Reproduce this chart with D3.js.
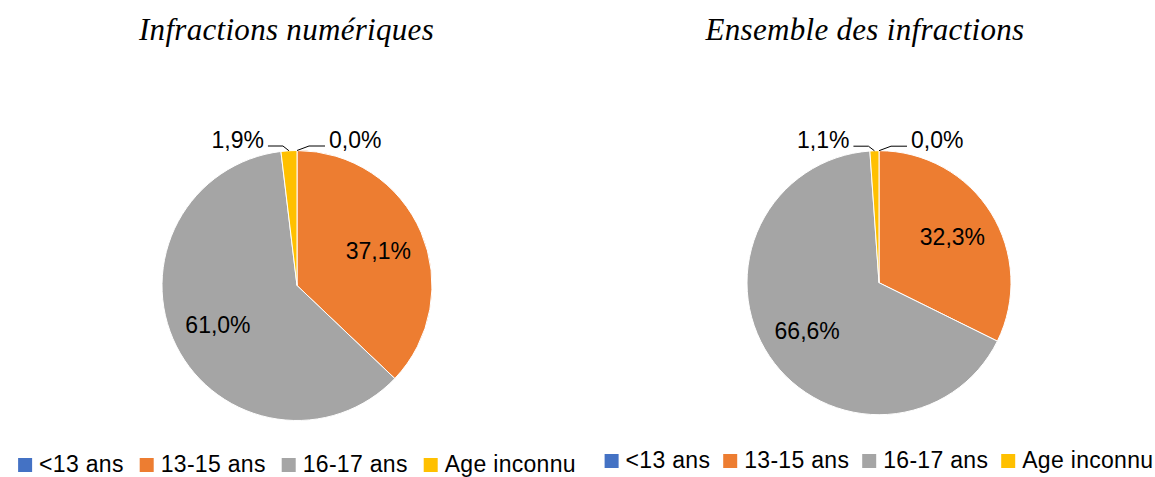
<!DOCTYPE html>
<html>
<head>
<meta charset="utf-8">
<script src="https://cdn.jsdelivr.net/npm/d3@7"></script>
<style>
  body { margin: 0; background: #fff; }
  svg { display: block; }
</style>
</head>
<body>
<script>
// data
var ageCategories = ["<13 ans", "13-15 ans", "16-17 ans", "Age inconnu"];
var ageColors = ["#4472C4", "#ED7D31", "#A5A5A5", "#FFC000"];
var numeriques = [0.0, 37.1, 61.0, 1.9];
var ensemble = [0.0, 32.3, 66.6, 1.1];
var chartTitles = ["Infractions numériques", "Ensemble des infractions"];

var svg_width = 1155, svg_height = 477;

var svg = d3.select("body").append("svg")
  .attr("width", svg_width)
  .attr("height", svg_height);

// layout for each pie
var charts = [
  {title: chartTitles[0], values: numeriques, cx: 297, cy: 285.5, r: 135, titleX: 286.5, legendY: 472, gap: 16},
  {title: chartTitles[1], values: ensemble, cx: 879, cy: 282.7, r: 132, titleX: 865, legendY: 468, gap: 13}
];

var color = d3.scaleOrdinal().domain(ageCategories).range(ageColors);
var pie = d3.pie().sort(null).value(function(d){ return d.v; });
var fmt = function(v){ return d3.format(".1f")(v).replace(".", ",") + "%"; };

charts.forEach(function(c){
  var data = c.values.map(function(v, i){ return {cat: ageCategories[i], v: v}; });
  var arcs = pie(data);

  // title
  svg.append("text")
    .attr("x", c.titleX)
    .attr("y", 40)
    .attr("text-anchor", "middle")
    .attr("font-family", "'Liberation Serif', 'Times New Roman', serif")
    .attr("font-style", "italic")
    .attr("font-size", 31)
    .attr("letter-spacing", 0.3)
    .attr("fill", "#000")
    .text(c.title);

  var g = svg.append("g").attr("transform", "translate(" + c.cx + "," + c.cy + ")");

  var arc = d3.arc().innerRadius(0).outerRadius(c.r);
  var labelArc = d3.arc().innerRadius(c.r * 0.655).outerRadius(c.r * 0.655);

  g.selectAll("path").data(arcs).enter().append("path")
    .attr("d", arc)
    .attr("fill", function(d){ return color(d.data.cat); })
    .attr("stroke", "#fff")
    .attr("stroke-width", 1);

  // inside labels
  g.selectAll("text.inside")
    .data(arcs.filter(function(d){ return d.data.v >= 5; }))
    .enter().append("text")
    .attr("class", "inside")
    .attr("transform", function(d){ return "translate(" + labelArc.centroid(d) + ")"; })
    .attr("text-anchor", "middle")
    .attr("dy", "0.35em")
    .attr("font-family", "'Liberation Sans', Arial, sans-serif")
    .attr("font-size", 23)
    .attr("fill", "#000")
    .text(function(d){ return fmt(d.data.v); });

  // outside labels with leader lines
  arcs.filter(function(d){ return d.data.v < 5; }).forEach(function(d){
    var mid = (d.startAngle + d.endAngle) / 2;
    var left = mid > Math.PI;
    var px = c.r * Math.sin(mid), py = -c.r * Math.cos(mid);
    var ey = -c.r - 4.5;
    var ex = px + (left ? -6 : 12);
    var hx = ex + (left ? -15 : 16);
    g.append("polyline")
      .attr("points", [[px, py], [ex, ey], [hx, ey]].map(function(p){ return p.join(","); }).join(" "))
      .attr("fill", "none")
      .attr("stroke", "#000")
      .attr("stroke-width", 1);
    g.append("text")
      .attr("x", hx + (left ? -4 : 4))
      .attr("y", ey + 2)
      .attr("text-anchor", left ? "end" : "start")
      .attr("font-family", "'Liberation Sans', Arial, sans-serif")
      .attr("font-size", 23)
      .attr("fill", "#000")
      .text(fmt(d.data.v));
  });

  // legend
  var lg = svg.append("g");
  var xpos = 0;
  ageCategories.forEach(function(cat){
    var item = lg.append("g").attr("transform", "translate(" + xpos + ",0)");
    item.append("rect")
      .attr("x", 0).attr("y", c.legendY - 14)
      .attr("width", 14).attr("height", 14)
      .attr("fill", color(cat));
    var t = item.append("text")
      .attr("x", 21).attr("y", c.legendY)
      .attr("font-family", "'Liberation Sans', Arial, sans-serif")
      .attr("font-size", 23)
      .attr("letter-spacing", 0.3)
      .attr("fill", "#000")
      .text(cat);
    xpos += 21 + t.node().getComputedTextLength() + c.gap;
  });
  var total = xpos - c.gap;
  lg.attr("transform", "translate(" + (c.cx - total / 2) + ",0)");
});
</script>
</body>
</html>
